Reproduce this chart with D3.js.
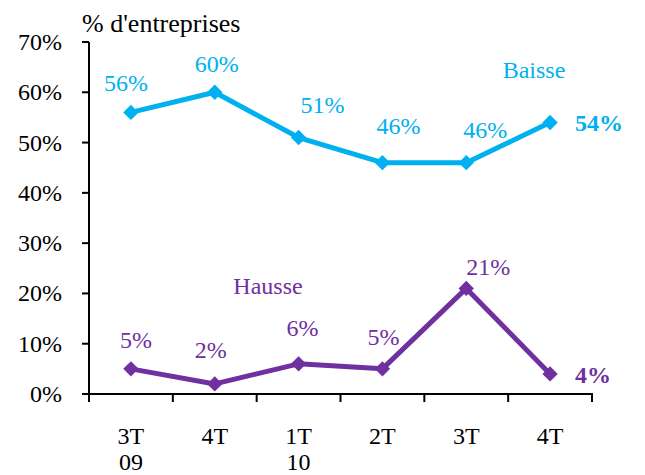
<!DOCTYPE html>
<html>
<head>
<meta charset="utf-8">
<script src="https://cdn.jsdelivr.net/npm/d3@7"></script>
<style>
  body { margin: 0; background: #fff; }
  svg { display: block; font-family: "Liberation Serif", "Times New Roman", serif; }
</style>
</head>
<body>
<div id="chart"></div>
<script>
const categories = ["3T\n09", "4T", "1T\n10", "2T", "3T", "4T"];
const baisse = [56, 60, 51, 46, 46, 54];
const hausse = [5, 2, 6, 5, 21, 4];
const yTicks = [0, 10, 20, 30, 40, 50, 60, 70];

const blue = "#00b0f0";
const purple = "#7030a0";

const svg = d3.select("#chart").append("svg").attr("width", 645).attr("height", 475);

const x = d3.scaleBand().domain(d3.range(categories.length)).range([89, 592]);
const y = d3.scaleLinear().domain([0, 70]).range([394, 42]);
const cx = i => x(i) + x.bandwidth() / 2;

// y axis
svg.append("line").attr("x1", 89).attr("x2", 89).attr("y1", y(70)).attr("y2", y(0))
  .attr("stroke", "#000").attr("stroke-width", 2);
svg.selectAll(".ytick").data(yTicks).enter().append("line")
  .attr("x1", 82).attr("x2", 89).attr("y1", d => y(d)).attr("y2", d => y(d))
  .attr("stroke", "#000").attr("stroke-width", 2);
svg.selectAll(".ylab").data(yTicks).enter().append("text")
  .attr("x", 62).attr("y", d => y(d) + 8).attr("text-anchor", "end")
  .attr("font-size", 24).text(d => d + "%");

svg.append("text").attr("x", 82).attr("y", 32).attr("font-size", 26).text("% d'entreprises");

// x axis
svg.append("line").attr("x1", 88).attr("x2", 593).attr("y1", y(0)).attr("y2", y(0))
  .attr("stroke", "#000").attr("stroke-width", 2);
const xTicks = d3.range(categories.length + 1).map(i => 89 + i * x.step());
svg.selectAll(".xtick").data(xTicks).enter().append("line")
  .attr("x1", d => d).attr("x2", d => d).attr("y1", y(0)).attr("y2", y(0) + 8)
  .attr("stroke", "#000").attr("stroke-width", 2);
const xl = svg.selectAll(".xlab").data(categories).enter().append("text")
  .attr("text-anchor", "middle").attr("font-size", 24);
xl.selectAll("tspan").data((d, i) => d.split("\n").map(s => ({ s, i })))
  .enter().append("tspan")
  .attr("x", d => cx(d.i)).attr("y", (d, j) => 444 + j * 26).text(d => d.s);

// series
const line = d3.line().x((d, i) => cx(i)).y(d => y(d));
const diamond = d3.symbol().type(d3.symbolDiamond2).size(150);

function drawSeries(vals, color) {
  svg.append("path").datum(vals).attr("d", line).attr("fill", "none")
    .attr("stroke", color).attr("stroke-width", 5).attr("stroke-linejoin", "round");
  svg.selectAll(null).data(vals).enter().append("path")
    .attr("d", diamond).attr("transform", (d, i) => `translate(${cx(i)},${y(d)})`)
    .attr("fill", color);
}
drawSeries(baisse, blue);
drawSeries(hausse, purple);

// data labels (offsets from the point)
const baisseOff = [[-5, -21], [2, -20], [24, -25], [16, -29], [19, -25]];
const hausseOff = [[5, -21], [-4, -26], [4, -28], [1, -24], [22, -13]];
function labels(vals, offs, color) {
  svg.selectAll(null).data(vals.slice(0, offs.length)).enter().append("text")
    .attr("x", (d, i) => cx(i) + offs[i][0]).attr("y", (d, i) => y(d) + offs[i][1])
    .attr("text-anchor", "middle").attr("font-size", 24).attr("fill", color)
    .text(d => d + "%");
  const last = vals.length - 1;
  svg.append("text").attr("x", cx(last) + 25).attr("y", y(vals[last]) + 9)
    .attr("font-size", 24).attr("font-weight", "bold").attr("fill", color)
    .text(vals[last] + "%");
}
labels(baisse, baisseOff, blue);
labels(hausse, hausseOff, purple);

svg.append("text").attr("x", 534).attr("y", 78).attr("text-anchor", "middle")
  .attr("font-size", 24).attr("fill", blue).text("Baisse");
svg.append("text").attr("x", 268).attr("y", 294).attr("text-anchor", "middle")
  .attr("font-size", 24).attr("fill", purple).text("Hausse");
</script>
</body>
</html>
